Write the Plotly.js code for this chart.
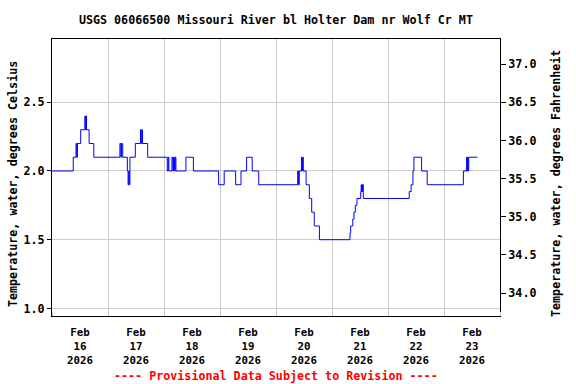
<!DOCTYPE html>
<html>
<head>
<meta charset="utf-8">
<script src="https://cdn.plot.ly/plotly-3.0.1.min.js"></script>
<style>html,body{margin:0;padding:0;background:#fff;}#chart{width:576px;height:384px;}</style>
</head>
<body>
<div id="chart"></div>
<script>
// Step-change times (local) and water temperature (deg C)
const times = [
  "2026-02-16 00:00","2026-02-16 09:06","2026-02-16 10:18","2026-02-16 10:36","2026-02-16 10:54",
  "2026-02-16 11:42","2026-02-16 12:18","2026-02-16 14:06","2026-02-16 14:18","2026-02-16 14:36",
  "2026-02-16 14:48","2026-02-16 15:54","2026-02-16 17:54","2026-02-17 05:06","2026-02-17 05:30",
  "2026-02-17 05:48","2026-02-17 06:18","2026-02-17 08:18","2026-02-17 08:36","2026-02-17 08:54",
  "2026-02-17 09:06","2026-02-17 09:24","2026-02-17 11:42","2026-02-17 13:54","2026-02-17 14:12",
  "2026-02-17 14:30","2026-02-17 14:48","2026-02-17 17:00","2026-02-18 01:24","2026-02-18 01:48",
  "2026-02-18 02:06","2026-02-18 03:24","2026-02-18 03:48","2026-02-18 04:06","2026-02-18 04:30",
  "2026-02-18 04:48","2026-02-18 05:06","2026-02-18 09:24","2026-02-18 12:36","2026-02-18 23:24",
  "2026-02-19 01:48","2026-02-19 06:42","2026-02-19 09:00","2026-02-19 11:24","2026-02-19 13:48",
  "2026-02-19 16:36","2026-02-20 09:18","2026-02-20 09:36","2026-02-20 10:00","2026-02-20 10:54",
  "2026-02-20 11:12","2026-02-20 11:24","2026-02-20 11:42","2026-02-20 12:54","2026-02-20 14:18",
  "2026-02-20 15:18","2026-02-20 16:24","2026-02-20 18:36","2026-02-21 07:42","2026-02-21 08:00",
  "2026-02-21 08:54","2026-02-21 09:24","2026-02-21 10:00","2026-02-21 10:42","2026-02-21 12:18",
  "2026-02-21 12:30","2026-02-21 12:42","2026-02-21 12:54","2026-02-21 13:06","2026-02-21 13:12",
  "2026-02-21 13:24","2026-02-22 09:06","2026-02-22 09:54","2026-02-22 10:42","2026-02-22 11:06",
  "2026-02-22 14:24","2026-02-22 16:48","2026-02-23 08:18","2026-02-23 09:42","2026-02-23 09:54",
  "2026-02-23 10:06","2026-02-23 10:18","2026-02-23 10:36","2026-02-23 14:18"
];
const tempC = [
  2.0,2.1,2.2,2.1,2.2,
  2.2,2.3,2.4,2.3,2.4,
  2.3,2.2,2.1,2.2,2.1,
  2.2,2.1,2.0,1.9,2.0,
  1.9,2.1,2.2,2.3,2.2,
  2.3,2.2,2.1,2.0,2.1,
  2.0,2.1,2.0,2.1,2.0,
  2.1,2.0,2.1,2.0,1.9,
  2.0,1.9,2.0,2.1,2.0,
  1.9,2.0,1.9,2.0,2.1,
  2.0,2.1,2.0,1.9,1.8,
  1.7,1.6,1.5,1.55,1.6,
  1.65,1.7,1.75,1.8,1.85,
  1.9,1.85,1.9,1.85,1.9,
  1.8,1.85,1.9,2.0,2.1,
  2.0,1.9,2.0,2.1,2.0,
  2.1,2.0,2.1,2.1
];
const dayLabels = ["Feb<br>16<br>2026","Feb<br>17<br>2026","Feb<br>18<br>2026","Feb<br>19<br>2026",
                   "Feb<br>20<br>2026","Feb<br>21<br>2026","Feb<br>22<br>2026","Feb<br>23<br>2026"];
const dayNoons = ["2026-02-16 12:00","2026-02-17 12:00","2026-02-18 12:00","2026-02-19 12:00",
                  "2026-02-20 12:00","2026-02-21 12:00","2026-02-22 12:00","2026-02-23 12:00"];
const midnights = ["2026-02-16","2026-02-17","2026-02-18","2026-02-19","2026-02-20",
                   "2026-02-21","2026-02-22","2026-02-23","2026-02-24"];
const titleText = "USGS 06066500 Missouri River bl Holter Dam nr Wolf Cr MT";
const leftTitle = "Temperature, water, degrees Celsius";
const rightTitle = "Temperature, water, degrees Fahrenheit";
const footer = "---- Provisional Data Subject to Revision ----";

const cRange = [0.945, 2.96];
const fRange = cRange.map(c => c * 1.8 + 32);
const FONT = "DejaVu Sans Mono, Liberation Mono, monospace";
const fnt = (size, color) => ({family: FONT, size: size, color: color || "#000", weight: "bold"});

const traces = [
  {x: times, y: tempC, type: "scatter", mode: "lines", line: {color: "#0000ff", width: 1, shape: "hv"},
   hoverinfo: "skip", showlegend: false},
  {x: times, y: tempC.map(c => c * 1.8 + 32), type: "scatter", mode: "lines", yaxis: "y2",
   line: {color: "rgba(0,0,0,0)", width: 0}, hoverinfo: "skip", showlegend: false}
];

const layout = {
  width: 576, height: 384,
  margin: {l: 52, r: 76, t: 39, b: 68},
  paper_bgcolor: "#fff", plot_bgcolor: "#fff",
  font: fnt(11.7),
  title: {text: titleText, font: fnt(11.7), x: 0.479, xanchor: "center", y: 0.948, yanchor: "middle"},
  xaxis: {
    type: "date", range: ["2026-02-16 00:00", "2026-02-24 00:00"],
    tickmode: "array", tickvals: dayNoons, ticktext: dayLabels, ticks: "", showgrid: false,
    showline: true, linecolor: "#000", linewidth: 1, mirror: true, zeroline: false,
    tickfont: fnt(10.8), ticklabelstandoff: 6,
    minor: {tickmode: "array", tickvals: midnights, showgrid: true, gridcolor: "#cccccc", gridwidth: 1,
            ticks: "inside", ticklen: 4, tickcolor: "#cccccc"}
  },
  yaxis: {
    range: cRange, tickmode: "linear", tick0: 1.0, dtick: 0.5, tickformat: ".1f",
    ticks: "outside", ticklen: 4, tickcolor: "#000", showgrid: true, gridcolor: "#cccccc",
    showline: true, linecolor: "#000", linewidth: 1, mirror: true, zeroline: false,
    tickfont: fnt(11.7)
  },
  yaxis2: {
    overlaying: "y", side: "right", range: fRange, tickmode: "linear", tick0: 34.0, dtick: 0.5,
    tickformat: ".1f", ticks: "outside", ticklen: 5, tickcolor: "#000", showgrid: false,
    showline: false, zeroline: false,
    tickfont: fnt(11.7)
  },
  annotations: [
    {text: leftTitle, xref: "paper", yref: "paper", x: -0.087, y: 0.4765, xanchor: "center", yanchor: "middle",
     textangle: -90, showarrow: false, font: fnt(11.7)},
    {text: rightTitle, xref: "paper", yref: "paper", x: 1.125, y: 0.4765, xanchor: "center", yanchor: "middle",
     textangle: -90, showarrow: false, font: fnt(11.7)},
    {text: footer, xref: "paper", yref: "paper", x: 0.5, y: -0.2166, xanchor: "center", yanchor: "middle",
     showarrow: false, font: fnt(11.7, "#ff0000")}
  ]
};

Plotly.newPlot("chart", traces, layout, {staticPlot: true, displayModeBar: false});
</script>
</body>
</html>
